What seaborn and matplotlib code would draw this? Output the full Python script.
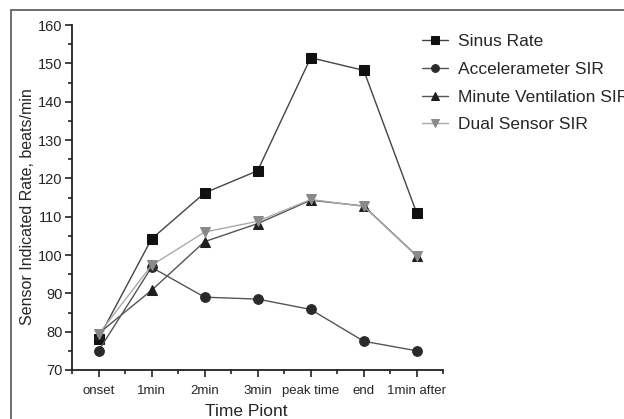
import matplotlib
matplotlib.use("Agg")
import matplotlib.pyplot as plt
import matplotlib.patches as mpatches
import seaborn as sns
import numpy as np

time_points = ["onset", "1min", "2min", "3min", "peak time", "end", "1min after"]
sinus_rate = [78.2, 104.2, 116.2, 122.0, 151.5, 148.2, 110.9]
accel_sir = [75.0, 96.8, 89.0, 88.5, 85.8, 77.5, 75.0]
minvent_sir = [79.5, 90.8, 103.5, 108.2, 114.3, 112.8, 99.8]
dual_sir = [79.3, 97.3, 106.0, 108.8, 114.5, 112.7, 99.7]

series = [
    ("Sinus Rate", sinus_rate, "s", "#111111", "#444444"),
    ("Accelerameter SIR", accel_sir, "o", "#2a2a2a", "#555555"),
    ("Minute Ventilation SIR", minvent_sir, "^", "#1e1e1e", "#555555"),
    ("Dual Sensor SIR", dual_sir, "v", "#8a8a8a", "#aaaaaa"),
]

sns.set_style("ticks")
plt.rcParams["font.family"] = ["Liberation Sans", "DejaVu Sans"]

fig = plt.figure(figsize=(6.24, 4.19), dpi=100)
ax = fig.add_axes([0.1154, 0.117, 0.595, 0.823])

x = np.arange(len(time_points))
for name, vals, mk, mcol, lcol in series:
    sns.lineplot(x=x, y=vals, ax=ax, marker=mk, color=lcol, linewidth=1.0,
                 markersize=7, markerfacecolor=mcol, markeredgecolor=mcol,
                 label=name)

ax.set_xlim(-0.5, 6.5)
ax.set_ylim(70, 160)
ax.set_xticks(x)
ax.set_xticklabels(time_points)
ax.set_xticks(np.arange(-0.5, 7, 1.0), minor=True)
ax.set_yticks(np.arange(70, 161, 10))
ax.set_yticks(np.arange(75, 160, 10), minor=True)
ax.tick_params(axis="both", which="major", length=5, width=1.2, color="#222222")
ax.tick_params(axis="x", which="major", labelsize=9.5, pad=6)
ax.tick_params(axis="y", which="major", labelsize=10.5, pad=2)
ax.tick_params(axis="both", which="minor", length=3, width=1.2, color="#222222")
for s in ["left", "bottom"]:
    ax.spines[s].set_linewidth(1.3)
    ax.spines[s].set_color("#222222")
sns.despine(ax=ax)

ax.set_xlabel("Time Piont", fontsize=12.5)
ax.xaxis.set_label_coords(0.47, -0.1)
ax.set_ylabel("Sensor Indicated Rate, beats/min", fontsize=11.5)
ax.yaxis.set_label_coords(-0.1, 0.475)

leg = ax.legend(loc="upper left", bbox_to_anchor=(0.925, 0.994), frameon=False,
                prop={"size": 12.5},
                handlelength=1.5, labelspacing=0.72, handletextpad=0.55,
                borderaxespad=0, markerscale=0.8)

border = mpatches.Rectangle((11 / 624, -0.01), 1.0, 1 - 10 / 419 + 0.01,
                            transform=fig.transFigure, fill=False,
                            edgecolor="#555555", linewidth=1.2, clip_on=False)
fig.patches.append(border)

fig.savefig("out.png", dpi=100)
